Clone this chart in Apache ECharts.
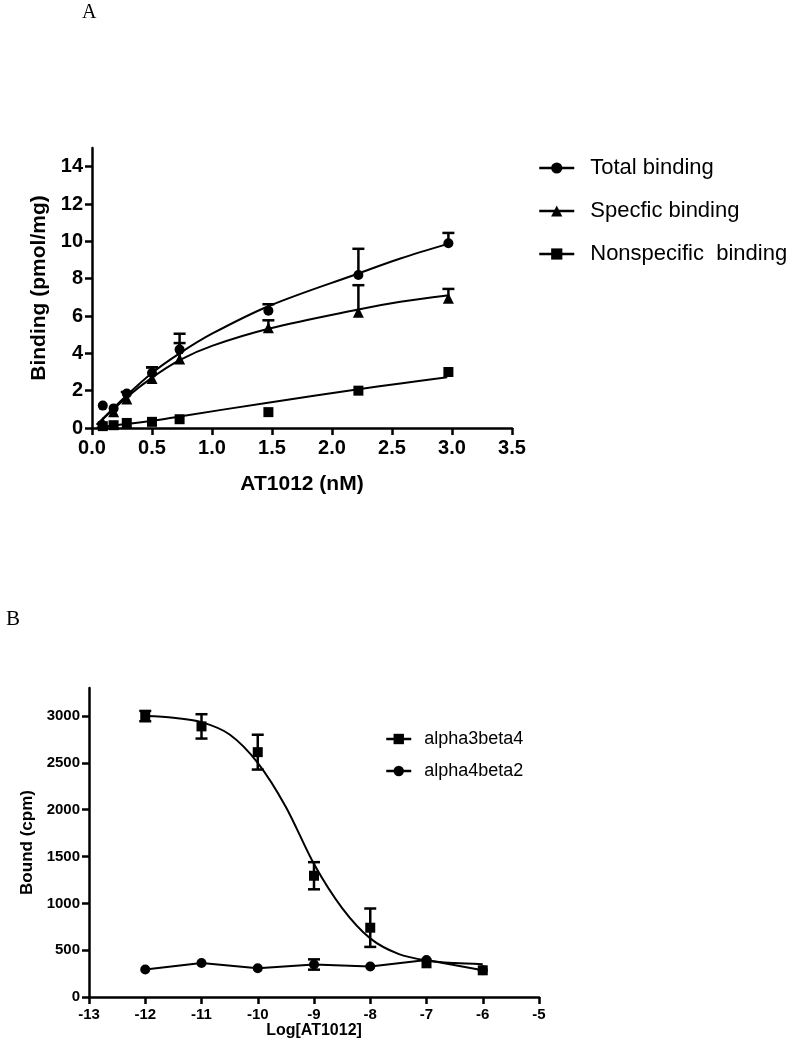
<!DOCTYPE html>
<html>
<head>
<meta charset="utf-8">
<script src="https://cdn.jsdelivr.net/npm/echarts@6/dist/echarts.min.js"></script>
<style>html,body{margin:0;padding:0;background:#fff;}#c{width:786px;height:1050px;}</style>
</head>
<body>
<div id="c"></div>
<script>
// ---- Panel A data ----
const xA = [0.09, 0.18, 0.29, 0.50, 0.73, 1.47, 2.22, 2.97];
const totalY = [1.2, 1.05, 1.85, 2.95, 4.2, 6.28, 8.2, 9.9];
const totalErr = [0, 0, 0.08, 0.3, 0.85, 0.35, 1.4, 0.55];
const specY = [0.3, 0.87, 1.55, 2.65, 3.7, 5.37, 6.2, 6.95];
const specErr = [0, 0, 0, 0.6, 0.85, 0.4, 1.45, 0.5];
const nonY = [0.1, 0.15, 0.27, 0.33, 0.47, 0.85, 2.0, 3.0];
const nonErr = [0, 0, 0, 0, 0, 0, 0, 0];
// fitted curves
const fitX_tot = [0.04, 0.29, 0.5, 0.73, 1.0, 1.48, 2.22, 2.57, 2.96];
const fitY_tot = [0.17, 1.75, 2.95, 4.0, 5.05, 6.55, 8.28, 9.08, 9.85];
const fitX_spec = [0.04, 0.29, 0.5, 0.73, 1.0, 1.48, 2.22, 2.57, 2.96];
const fitY_spec = [0.17, 1.65, 2.7, 3.64, 4.4, 5.33, 6.35, 6.76, 7.1];
const fitX_non = [0.04, 0.5, 0.73, 1.48, 2.22, 2.57, 2.96];
const fitY_non = [0.03, 0.39, 0.62, 1.37, 2.07, 2.39, 2.72];
const yTicksA = [0, 2, 4, 6, 8, 10, 12, 14];

// ---- Panel B data ----
const xB = [-12, -11, -10, -9, -8, -7, -6];
const a3b4 = [3000, 2890, 2615, 1295, 740, 360, 285];
const a3b4Err = [55, 130, 186, 145, 205, 0, 0];
const a4b2 = [293, 364, 307, 347, 325, 395, 285];
const a4b2Err = [0, 0, 0, 55, 0, 0, 0];
const fitX_a3b4 = [-12, -11.5, -11, -10.5, -10, -9.5, -9, -8.5, -8, -7.5, -7, -6.5, -6];
const fitY_a3b4 = [3000, 2983, 2936, 2804, 2501, 2030, 1420, 950, 626, 460, 390, 362, 350];
const yTicksB = [0, 500, 1000, 1500, 2000, 2500, 3000];

const FONT = 'Liberation Sans';
const pairs = (xs, ys) => xs.map((x, i) => [x, ys[i]]);
const triples = (xs, ys, es) => xs.map((x, i) => [x, ys[i], es[i]]);

function errBar(both, capHalf) {
  return function (params, api) {
    const x = api.value(0), y = api.value(1), e = api.value(2);
    if (!e) return { type: 'group', children: [] };
    const p = api.coord([x, y]);
    const t = api.coord([x, y + e]);
    const b = api.coord([x, y - e]);
    const st = { stroke: '#000', lineWidth: 2.5 };
    const ch = [
      { type: 'line', shape: { x1: p[0], y1: both ? b[1] : p[1], x2: t[0], y2: t[1] }, style: st },
      { type: 'line', shape: { x1: t[0] - capHalf, y1: t[1], x2: t[0] + capHalf, y2: t[1] }, style: st }
    ];
    if (both) ch.push({ type: 'line', shape: { x1: b[0] - capHalf, y1: b[1], x2: b[0] + capHalf, y2: b[1] }, style: st });
    return { type: 'group', children: ch };
  };
}

const axisLine = { show: true, onZero: false, lineStyle: { color: '#000', width: 2.5 } };
const axisTick = { show: true, length: 7, lineStyle: { color: '#000', width: 2.5 } };

function pointSeries(name, symbol, size, data, xi) {
  return {
    name: name, type: 'line', xAxisIndex: xi, yAxisIndex: xi, data: data,
    symbol: symbol, symbolSize: size, showSymbol: true,
    itemStyle: { color: '#000' }, lineStyle: { color: '#000', width: 2, opacity: 0 },
    z: 5, silent: true
  };
}
function fitSeries(data, xi, sm) {
  return {
    type: 'line', xAxisIndex: xi, yAxisIndex: xi, data: data, smooth: sm,
    symbol: 'none', lineStyle: { color: '#000', width: 2 }, z: 3, silent: true
  };
}
function errSeries(data, xi, both, cap) {
  return {
    type: 'custom', xAxisIndex: xi, yAxisIndex: xi, data: data,
    renderItem: errBar(both, cap), encode: { x: 0, y: 1 }, z: 4, silent: true
  };
}

const chart = echarts.init(document.getElementById('c'), null, { renderer: 'canvas' });
chart.setOption({
  animation: false,
  backgroundColor: '#fff',
  title: [
    { text: 'A', left: 77, top: -2, textStyle: { fontFamily: 'Liberation Serif', fontWeight: 'normal', fontSize: 20, color: '#000' } },
    { text: 'B', left: 1, top: 604, textStyle: { fontFamily: 'Liberation Serif', fontWeight: 'normal', fontSize: 21, color: '#000' } }
  ],
  grid: [
    { left: 92, top: 148, width: 420, height: 280 },
    { left: 89, top: 688, width: 450, height: 309 }
  ],
  legend: [
    {
      orient: 'vertical', left: 533, top: 152, itemWidth: 35, itemHeight: 14, itemGap: 21,
      data: ['Total binding', 'Specfic binding', 'Nonspecific  binding'],
      lineStyle: { color: '#000', width: 2.5, opacity: 1 },
      textStyle: { fontFamily: FONT, fontSize: 22, color: '#000', padding: [0, 0, 0, 11] },
      selectedMode: false
    },
    {
      orient: 'vertical', left: 380, top: 725, itemWidth: 25, itemHeight: 13, itemGap: 14,
      data: ['alpha3beta4', 'alpha4beta2'],
      lineStyle: { color: '#000', width: 2.5, opacity: 1 },
      textStyle: { fontFamily: FONT, fontSize: 18, color: '#000', padding: [0, 0, 0, 8] },
      selectedMode: false
    }
  ],
  xAxis: [
    {
      gridIndex: 0, type: 'value', min: 0, max: 3.5, interval: 0.5,
      name: 'AT1012 (nM)', nameLocation: 'middle', nameGap: 46,
      nameTextStyle: { fontFamily: FONT, fontWeight: 'bold', fontSize: 21, color: '#000' },
      axisLine: axisLine, axisTick: axisTick, splitLine: { show: false },
      axisLabel: { fontFamily: FONT, fontWeight: 'bold', fontSize: 20, color: '#000', margin: 10,
        formatter: v => v.toFixed(1) }
    },
    {
      gridIndex: 1, type: 'value', min: -13, max: -5, interval: 1,
      name: 'Log[AT1012]', nameLocation: 'middle', nameGap: 26,
      nameTextStyle: { fontFamily: FONT, fontWeight: 'bold', fontSize: 16, color: '#000' },
      axisLine: axisLine, axisTick: axisTick, splitLine: { show: false },
      axisLabel: { fontFamily: FONT, fontWeight: 'bold', fontSize: 15, color: '#000', margin: 10 }
    }
  ],
  yAxis: [
    {
      gridIndex: 0, type: 'value', min: 0, max: 15,
      name: 'Binding (pmol/mg)', nameLocation: 'middle', nameGap: 41,
      nameTextStyle: { fontFamily: FONT, fontWeight: 'bold', fontSize: 21, color: '#000' },
      axisLine: axisLine,
      axisTick: Object.assign({}, axisTick, { customValues: yTicksA }),
      splitLine: { show: false },
      axisLabel: { fontFamily: FONT, fontWeight: 'bold', fontSize: 20, color: '#000', margin: 9, customValues: yTicksA }
    },
    {
      gridIndex: 1, type: 'value', min: 0, max: 3300,
      name: 'Bound (cpm)', nameLocation: 'middle', nameGap: 52,
      nameTextStyle: { fontFamily: FONT, fontWeight: 'bold', fontSize: 17, color: '#000' },
      axisLine: axisLine,
      axisTick: Object.assign({}, axisTick, { customValues: yTicksB }),
      splitLine: { show: false },
      axisLabel: { fontFamily: FONT, fontWeight: 'bold', fontSize: 15, color: '#000', margin: 9,
        customValues: yTicksB, formatter: v => String(v) }
    }
  ],
  series: [
    fitSeries(pairs(fitX_tot, fitY_tot), 0, 0.35),
    fitSeries(pairs(fitX_spec, fitY_spec), 0, 0.35),
    fitSeries(pairs(fitX_non, fitY_non), 0, 0.35),
    errSeries(triples(xA, totalY, totalErr), 0, false, 6),
    errSeries(triples(xA, specY, specErr), 0, false, 6),
    errSeries(triples(xA, nonY, nonErr), 0, false, 6),
    pointSeries('Total binding', 'circle', 10, pairs(xA, totalY), 0),
    pointSeries('Specfic binding', 'triangle', 11, pairs(xA, specY), 0),
    pointSeries('Nonspecific  binding', 'rect', 10, pairs(xA, nonY), 0),

    fitSeries(pairs(fitX_a3b4, fitY_a3b4), 1, 0.3),
    errSeries(triples(xB, a3b4, a3b4Err), 1, true, 6),
    errSeries(triples(xB, a4b2, a4b2Err), 1, true, 6),
    pointSeries('alpha3beta4', 'rect', 10, pairs(xB, a3b4), 1),
    Object.assign(pointSeries('alpha4beta2', 'circle', 10, pairs(xB, a4b2), 1),
      { lineStyle: { color: '#000', width: 2, opacity: 1 }, z: 4 })
  ]
});
</script>
</body>
</html>
